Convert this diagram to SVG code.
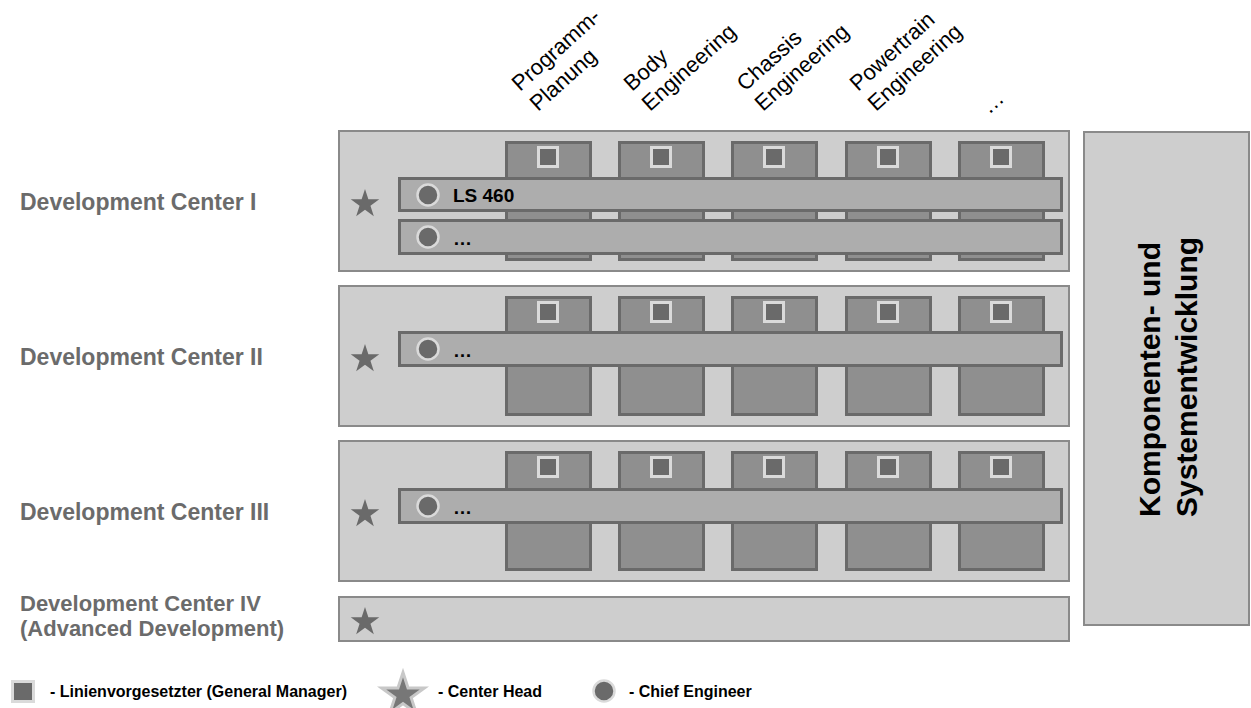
<svg xmlns="http://www.w3.org/2000/svg" xmlns:xlink="http://www.w3.org/1999/xlink" width="1251" height="708" viewBox="0 0 1251 708">
  <style>
    .center { fill: #cecece; stroke: #8a8a8a; stroke-width: 2; }
    .col { fill: #8f8f8f; stroke: #6a6a6a; stroke-width: 3; }
    .bar { fill: #adadad; stroke: #6a6a6a; stroke-width: 3; }
    .gm { fill: #6a6a6a; stroke: #dadada; stroke-width: 3; }
    .ce { fill: #6a6a6a; stroke: #dadada; stroke-width: 2.5; }
    .head { fill: #6a6a6a; }
    .dc { font-family: "Liberation Sans", Arial, sans-serif; font-weight: bold; font-size: 23px; fill: #6b6b6b; }
    .dc4 { font-size: 22px; }
    .hdr { font-family: "Liberation Sans", Arial, sans-serif; font-size: 22px; fill: #000; }
    .prog { font-family: "Liberation Sans", Arial, sans-serif; font-weight: bold; font-size: 19px; fill: #000; }
    .side { font-family: "Liberation Sans", Arial, sans-serif; font-weight: bold; font-size: 30px; fill: #000; }
    .leg { font-family: "Liberation Sans", Arial, sans-serif; font-weight: bold; font-size: 16px; fill: #000; }
  </style>
  <defs>
    <path id="star" d="M0,-15 L3.37,-4.64 L14.27,-4.64 L5.45,1.77 L8.82,12.14 L0,5.73 L-8.82,12.14 L-5.45,1.77 L-14.27,-4.64 L-3.37,-4.64 Z"/>
    <!-- one functional column (with its manager square), drawn at the origin -->
    <g id="colI">
      <rect class="col" x="1.5" y="1.5" width="84" height="117"/>
      <rect class="gm" x="33.5" y="6.5" width="19" height="19"/>
    </g>
  </defs>

  <rect width="1251" height="708" fill="#ffffff"/>

  <!-- function headers -->
  <g id="headers" class="hdr">
    <g transform="translate(520,92) rotate(-42)"><text x="0" y="0">Programm-</text><text x="0" y="27">Planung</text></g>
    <g transform="translate(632,92) rotate(-42)"><text x="0" y="0">Body</text><text x="0" y="27">Engineering</text></g>
    <g transform="translate(745,92) rotate(-42)"><text x="0" y="0">Chassis</text><text x="0" y="27">Engineering</text></g>
    <g transform="translate(858,92) rotate(-42)"><text x="0" y="0">Powertrain</text><text x="0" y="27">Engineering</text></g>
    <g transform="translate(989,115) rotate(-42)"><text x="0" y="0">…</text></g>
  </g>

  <!-- Development Center I -->
  <g id="dc1">
    <text class="dc" x="20" y="210">Development Center I</text>
    <rect class="center" x="339" y="131" width="730" height="140"/>
    <use xlink:href="#colI" x="505" y="141"/>
    <use xlink:href="#colI" x="618" y="141"/>
    <use xlink:href="#colI" x="731" y="141"/>
    <use xlink:href="#colI" x="845" y="141"/>
    <use xlink:href="#colI" x="958" y="141"/>
    <use xlink:href="#star" class="head" x="365" y="204"/>
    <g id="dc1-ls460">
      <rect class="bar" x="399.5" y="178.5" width="662" height="32"/>
      <circle class="ce" cx="428" cy="195" r="10.5"/>
      <text class="prog" x="453" y="202">LS 460</text>
    </g>
    <g id="dc1-more">
      <rect class="bar" x="399.5" y="220.5" width="662" height="33"/>
      <circle class="ce" cx="428" cy="237" r="10.5"/>
      <text class="prog" x="453" y="245">…</text>
    </g>
  </g>

  <!-- Development Center II -->
  <g id="dc2">
    <text class="dc" x="20" y="365">Development Center II</text>
    <rect class="center" x="339" y="286" width="730" height="140"/>
    <use xlink:href="#colI" x="505" y="296"/>
    <use xlink:href="#colI" x="618" y="296"/>
    <use xlink:href="#colI" x="731" y="296"/>
    <use xlink:href="#colI" x="845" y="296"/>
    <use xlink:href="#colI" x="958" y="296"/>
    <use xlink:href="#star" class="head" x="365" y="359"/>
    <g id="dc2-more">
      <rect class="bar" x="399.5" y="332.5" width="662" height="33"/>
      <circle class="ce" cx="428" cy="349" r="10.5"/>
      <text class="prog" x="453" y="357">…</text>
    </g>
  </g>

  <!-- Development Center III -->
  <g id="dc3">
    <text class="dc" x="20" y="520">Development Center III</text>
    <rect class="center" x="339" y="441" width="730" height="140"/>
    <use xlink:href="#colI" x="505" y="451"/>
    <use xlink:href="#colI" x="618" y="451"/>
    <use xlink:href="#colI" x="731" y="451"/>
    <use xlink:href="#colI" x="845" y="451"/>
    <use xlink:href="#colI" x="958" y="451"/>
    <use xlink:href="#star" class="head" x="365" y="514"/>
    <g id="dc3-more">
      <rect class="bar" x="399.5" y="489.5" width="662" height="33"/>
      <circle class="ce" cx="428" cy="506" r="10.5"/>
      <text class="prog" x="453" y="514">…</text>
    </g>
  </g>

  <!-- Development Center IV -->
  <g id="dc4">
    <text class="dc dc4" x="20" y="611">Development Center IV</text>
    <text class="dc dc4" x="20" y="636">(Advanced Development)</text>
    <rect class="center" x="339" y="597" width="730" height="44"/>
    <use xlink:href="#star" class="head" x="365" y="622"/>
  </g>

  <!-- component and system development -->
  <g id="kse">
    <rect class="center" x="1084" y="132" width="165" height="493"/>
    <g transform="translate(1160,517) rotate(-90)" class="side">
      <text x="0" y="0">Komponenten- und</text>
      <text x="0" y="37">Systementwicklung</text>
    </g>
  </g>

  <!-- legend -->
  <g id="legend">
    <rect class="gm" x="12.5" y="681.5" width="21" height="20"/>
    <text class="leg" x="50" y="697">- Linienvorgesetzter (General Manager)</text>
    <use xlink:href="#star" x="0" y="0" transform="translate(403,695) scale(1.5)" fill="#777777" stroke="#c8c8c8" stroke-width="2"/>
    <text class="leg" x="438" y="697">- Center Head</text>
    <circle class="ce" cx="604" cy="691" r="10.5"/>
    <text class="leg" x="629" y="697">- Chief Engineer</text>
  </g>
</svg>
